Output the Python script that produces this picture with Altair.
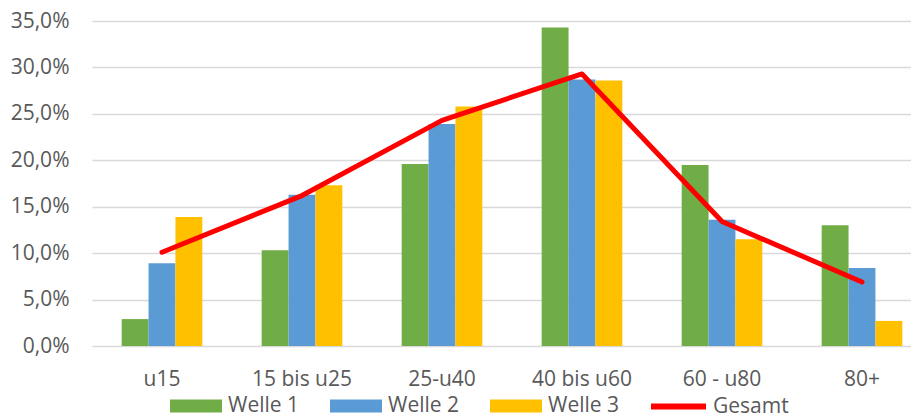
import altair as alt
import pandas as pd

categories = ["u15", "15 bis u25", "25-u40", "40 bis u60", "60 - u80", "80+"]
series = ["Welle 1", "Welle 2", "Welle 3"]
welle1 = [2.9, 10.3, 19.6, 34.3, 19.5, 13.0]
welle2 = [8.9, 16.3, 23.9, 28.7, 13.6, 8.4]
welle3 = [13.9, 17.3, 25.8, 28.6, 11.5, 2.7]
gesamt = [10.1, 16.2, 24.3, 29.3, 13.4, 6.9]
bar_colors = ["#70AD47", "#5B9BD5", "#FFC000"]
line_color = "#FF0000"

rows = []
for name, vals in zip(series, [welle1, welle2, welle3]):
    for c, v in zip(categories, vals):
        rows.append({"cat": c, "series": name, "value": v / 100})
bars_df = pd.DataFrame(rows)
line_df = pd.DataFrame({"cat": categories, "value": [v / 100 for v in gesamt], "name": "Gesamt"})

FONT = "Open Sans"
GREY = "#595959"

xscale = alt.Scale(domain=categories, range=[0, 840], paddingInner=0.424, paddingOuter=0.212)
xaxis = alt.Axis(title=None, domain=False, ticks=False, labelFontSize=21, labelColor=GREY,
                 labelFont=FONT, labelPadding=33, labelBaseline="middle", labelAngle=0,
                 labelLimit=300, grid=False)
yscale = alt.Scale(domain=[0, 0.35], nice=False)
yaxis = alt.Axis(title=None, domain=False, ticks=False, values=[0, 0.05, 0.1, 0.15, 0.2, 0.25, 0.3, 0.35],
                 labelExpr="replace(format(datum.value, '.1%'), '.', ',')",
                 labelFontSize=21, labelColor=GREY, labelFont=FONT, labelPadding=23,
                 gridColor="#D9D9D9", gridWidth=1.5)

bars = alt.Chart(bars_df).mark_bar().encode(
    x=alt.X("cat:N", sort=categories, scale=xscale, axis=xaxis),
    xOffset=alt.XOffset("series:N", sort=series, scale=alt.Scale(domain=series, paddingInner=0, paddingOuter=0)),
    y=alt.Y("value:Q", scale=yscale, axis=yaxis),
    color=alt.Color("series:N", scale=alt.Scale(domain=series, range=bar_colors),
                    legend=alt.Legend(title=None, orient="none", legendX=78, legendY=359,
                                      direction="horizontal", columns=3,
                                      symbolType="M-1,-0.25H1V0.25H-1Z", symbolSize=2704,
                                      symbolStrokeWidth=0, labelOffset=6, columnPadding=30,
                                      labelFontSize=21, labelColor=GREY, labelFont=FONT)),
)

line = alt.Chart(line_df).mark_line(strokeWidth=5, strokeCap="round", strokeJoin="round").encode(
    x=alt.X("cat:N", sort=categories, scale=xscale, axis=xaxis),
    y=alt.Y("value:Q", scale=yscale, axis=yaxis),
    stroke=alt.Stroke("name:N", scale=alt.Scale(domain=["Gesamt"], range=[line_color]),
                      legend=alt.Legend(title=None, orient="none", legendX=556, legendY=355,
                                        symbolType="stroke", symbolSize=3025, symbolStrokeWidth=6,
                                        labelOffset=4, labelFontSize=21, labelColor=GREY, labelFont=FONT)),
)

chart = alt.layer(bars, line).properties(
    width=819, height=325,
    autosize=alt.AutoSizeParams(type="none"),
    padding={"left": 84, "top": 13, "right": 0, "bottom": 70},
).configure(font=FONT).configure_view(stroke="transparent", strokeWidth=0).configure_axis(domain=False)

chart.save("out.html", embed_options={"renderer": "svg", "actions": False})
